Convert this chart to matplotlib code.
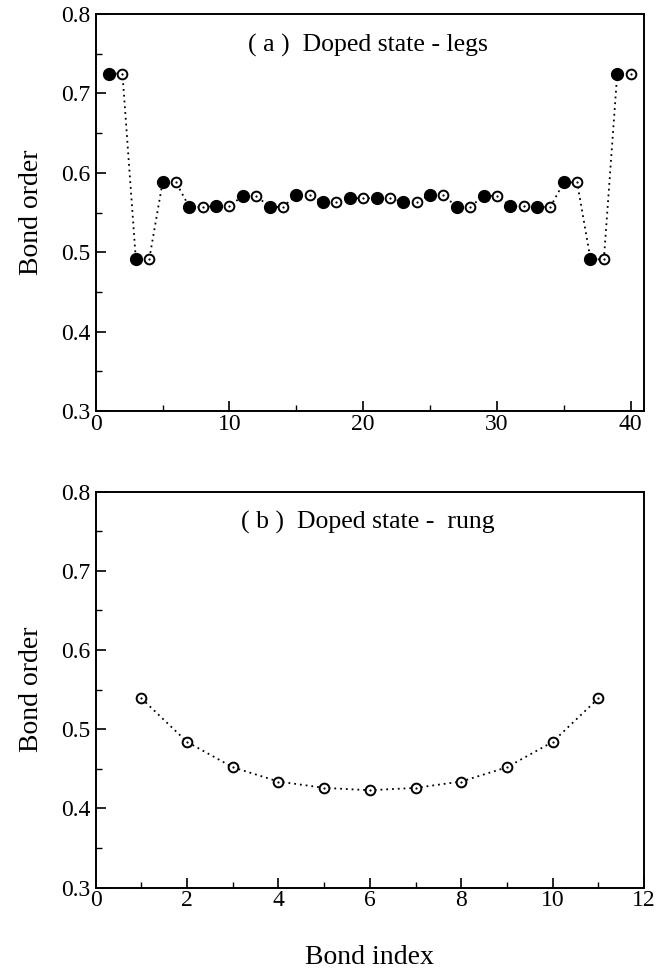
import numpy as np
import matplotlib.pyplot as plt
from matplotlib.ticker import MultipleLocator

plt.rcParams['font.family'] = ['Liberation Serif', 'DejaVu Serif']

# panel (a): bond order along the legs
leg_index = np.arange(1, 41)
leg_order = [0.725, 0.725, 0.491, 0.491, 0.588, 0.588, 0.557, 0.557, 0.558, 0.558,
             0.571, 0.571, 0.557, 0.557, 0.572, 0.572, 0.563, 0.563, 0.568, 0.568,
             0.568, 0.568, 0.563, 0.563, 0.572, 0.572, 0.557, 0.557, 0.571, 0.571,
             0.558, 0.558, 0.557, 0.557, 0.588, 0.588, 0.491, 0.491, 0.725, 0.725]

# panel (b): bond order on the rungs
rung_index = np.arange(1, 12)
rung_order = [0.539, 0.484, 0.452, 0.434, 0.426, 0.423, 0.426, 0.434, 0.452, 0.484, 0.539]

fig = plt.figure(figsize=(6.67, 9.73), dpi=100)
ax1 = fig.add_axes([0.1435, 0.5776, 0.822, 0.408])
ax2 = fig.add_axes([0.1435, 0.0877, 0.822, 0.407])

dots = (0, (1, 2.2))
ms = 7


def open_markers(ax, x, y):
    ax.plot(x, y, linestyle='none', marker='o', ms=ms, mfc='white', mec='black', mew=1.4, zorder=3)
    ax.plot(x, y, linestyle='none', marker='o', ms=1.6, mfc='black', mec='black', mew=0, zorder=4)


leg_y = np.array(leg_order)
ax1.plot(leg_index, leg_y, color='black', linestyle=dots, lw=1.3, zorder=2)
ax1.plot(leg_index[0::2], leg_y[0::2], linestyle='none', marker='o', ms=ms + 1.5,
         mfc='black', mec='black', zorder=3)
open_markers(ax1, leg_index[1::2], leg_y[1::2])

ax2.plot(rung_index, rung_order, color='black', linestyle=dots, lw=1.3, zorder=2)
open_markers(ax2, rung_index, rung_order)

ax1.set_xlim(0, 41)
ax1.xaxis.set_major_locator(MultipleLocator(10))
ax1.xaxis.set_minor_locator(MultipleLocator(5))
ax2.set_xlim(0, 12)
ax2.xaxis.set_major_locator(MultipleLocator(2))
ax2.xaxis.set_minor_locator(MultipleLocator(1))

for ax in (ax1, ax2):
    ax.set_ylim(0.3, 0.8)
    ax.yaxis.set_major_locator(MultipleLocator(0.1))
    ax.yaxis.set_minor_locator(MultipleLocator(0.05))
    ax.tick_params(which='both', direction='in', top=False, right=False, labelsize=17)
    ax.tick_params(which='major', length=7, width=1.2)
    ax.tick_params(which='minor', length=4, width=1.0)
    ax.tick_params(axis='x', pad=2)
    for s in ax.spines.values():
        s.set_linewidth(1.4)
    ax.set_ylabel('Bond order', fontsize=20)
    ax.yaxis.set_label_coords(-0.095, 0.5)

ax1.text(0.497, 0.922, '( a )  Doped state - legs', transform=ax1.transAxes,
         ha='center', va='center', fontsize=18.5)
ax2.text(0.497, 0.922, '( b )  Doped state -  rung', transform=ax2.transAxes,
         ha='center', va='center', fontsize=18.5)

fig.text(0.554, 1 - 958 / 973, 'Bond index', ha='center', va='center', fontsize=20)

fig.savefig('out.png', dpi=100)
